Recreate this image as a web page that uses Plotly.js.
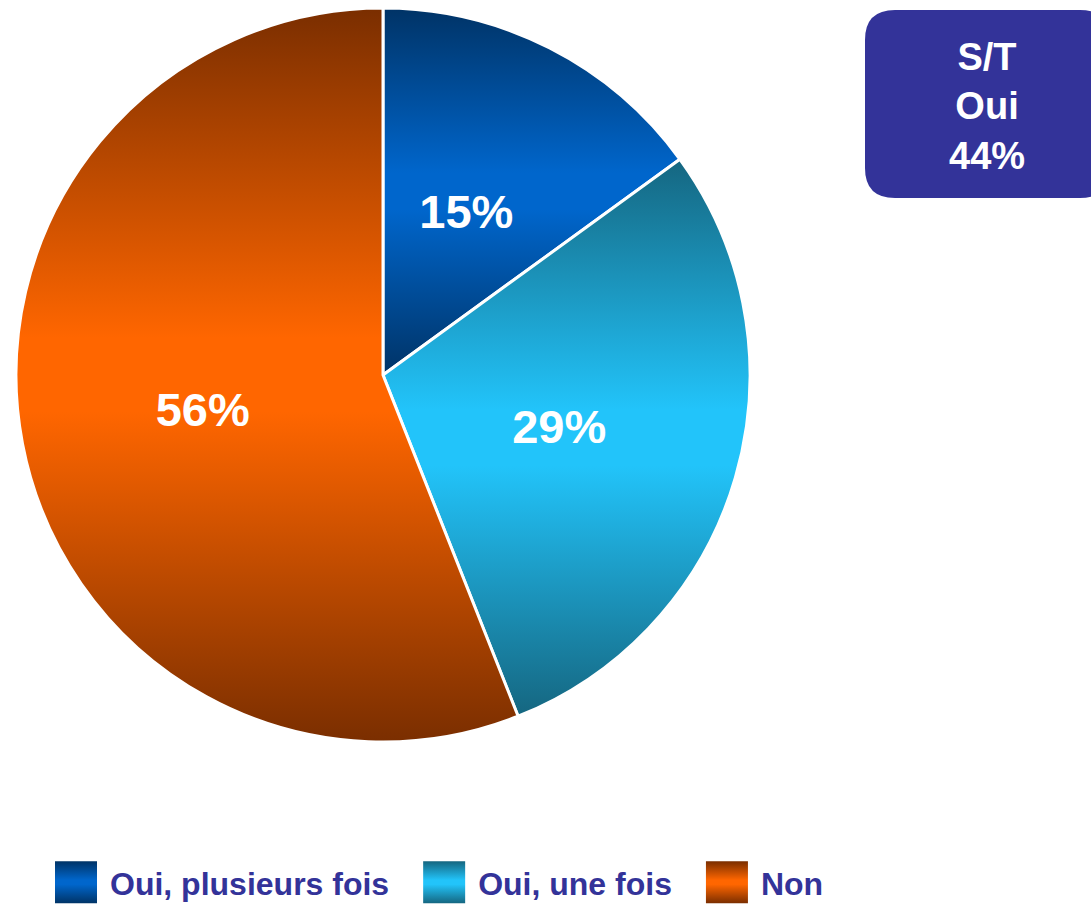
<!DOCTYPE html>
<html>
<head>
<meta charset="utf-8">
<script src="https://cdn.plot.ly/plotly-3.0.1.min.js"></script>
<style>
  html, body { margin: 0; padding: 0; background: #fff; }
  #chart { width: 1091px; height: 904px; }
</style>
</head>
<body>
<div id="chart"></div>
<script>
// réponses au sondage
const labels = ["Oui, plusieurs fois", "Oui, une fois", "Non"];
const values = [15, 29, 56];
const totalLabel = ["S/T", "Oui", "44%"];

// dégradés verticaux : [sombre, clair]
const sliceShades = [
    ["#003366", "#0066cc"],
    ["#156680", "#22c4fa"],
    ["#7a2e00", "#ff6600"]
];

const W = 1091, H = 904;
const px = x => x / W;
const py = y => 1 - y / H;

// encadré arrondi en haut à droite
function roundedBox(x0, y0, x1, y1, r) {
    return `M${px(x0 + r)},${py(y0)} L${px(x1 - r)},${py(y0)} Q${px(x1)},${py(y0)} ${px(x1)},${py(y0 + r)}` +
        ` L${px(x1)},${py(y1 - r)} Q${px(x1)},${py(y1)} ${px(x1 - r)},${py(y1)}` +
        ` L${px(x0 + r)},${py(y1)} Q${px(x0)},${py(y1)} ${px(x0)},${py(y1 - r)}` +
        ` L${px(x0)},${py(y0 + r)} Q${px(x0)},${py(y0)} ${px(x0 + r)},${py(y0)} Z`;
}

const trace = {
    type: "pie",
    labels: labels,
    values: values,
    sort: false,
    direction: "clockwise",
    rotation: 0,
    texttemplate: "%{value}%",
    textposition: "inside",
    insidetextorientation: "horizontal",
    insidetextfont: { family: "Liberation Sans, Arial, sans-serif", size: 47, color: "#ffffff", weight: "bold" },
    marker: {
        colors: sliceShades.map(s => s[1]),
        line: { color: "#ffffff", width: 3 }
    },
    domain: { x: [px(16), px(750)], y: [py(742), py(8)] },
    hoverinfo: "label+percent"
};

const layout = {
    width: W,
    height: H,
    margin: { t: 0, b: 0, l: 0, r: 0 },
    paper_bgcolor: "#ffffff",
    showlegend: true,
    legend: {
        orientation: "h",
        x: px(26),
        xanchor: "left",
        y: 0,
        yanchor: "bottom",
        itemwidth: 74,
        font: { family: "Liberation Sans, Arial, sans-serif", size: 32, color: "#333399", weight: "bold" },
        traceorder: "normal"
    },
    shapes: [{
        type: "path",
        xref: "paper",
        yref: "paper",
        path: roundedBox(865, 10, 1110, 198, 30),
        fillcolor: "#333399",
        line: { width: 0 }
    }],
    annotations: [{
        xref: "paper",
        yref: "paper",
        x: px(987),
        y: py(106),
        xanchor: "center",
        yanchor: "middle",
        showarrow: false,
        align: "center",
        text: totalLabel.join("<br>"),
        font: { family: "Liberation Sans, Arial, sans-serif", size: 38, color: "#ffffff", weight: "bold" }
    }]
};

// applique les dégradés aux parts et aux pastilles de légende,
// et recentre les étiquettes à mi-rayon
function applyGradients(gd) {
    const svg = gd.querySelector(".main-svg");
    const ns = "http://www.w3.org/2000/svg";
    let defs = svg.querySelector("defs");
    if (!defs) {
        defs = document.createElementNS(ns, "defs");
        svg.insertBefore(defs, svg.firstChild);
    }
    sliceShades.forEach((s, i) => {
        const g = document.createElementNS(ns, "linearGradient");
        g.setAttribute("id", "shade" + i);
        g.setAttribute("x1", "0"); g.setAttribute("y1", "0");
        g.setAttribute("x2", "0"); g.setAttribute("y2", "1");
        [[0, s[0]], [0.45, s[1]], [0.55, s[1]], [1, s[0]]].forEach(([o, c]) => {
            const stop = document.createElementNS(ns, "stop");
            stop.setAttribute("offset", o);
            stop.setAttribute("stop-color", c);
            g.appendChild(stop);
        });
        defs.appendChild(g);
    });

    const cd = gd.calcdata[0];
    const cx = cd[0].cx, cy = cd[0].cy;
    gd.querySelectorAll(".pielayer .slice").forEach((sl, i) => {
        const p = sl.querySelector("path.surface");
        if (p) p.style.fill = `url(#shade${i})`;
        const t = sl.querySelector("text.slicetext");
        if (t && cd[i] && cd[i].pxmid) {
            const bb = t.getBoundingClientRect();
            const sb = svg.getBoundingClientRect();
            const curX = bb.left - sb.left + bb.width / 2;
            const curY = bb.top - sb.top + bb.height / 2;
            const tx = cx + cd[i].pxmid[0] * 0.5;
            const ty = cy + cd[i].pxmid[1] * 0.5;
            const old = t.getAttribute("transform") || "";
            t.setAttribute("transform", `translate(${tx - curX},${ty - curY}) ` + old);
        }
    });

    // légende un peu plus bas, au ras du bord comme l'original
    const leg = gd.querySelector("g.legend");
    if (leg) {
        const old = leg.getAttribute("transform") || "";
        leg.setAttribute("transform", "translate(0,6) " + old);
    }
    gd.querySelectorAll(".legend .traces").forEach((tr, i) => {
        const p = tr.querySelector(".legendpoints path");
        if (p) {
            p.setAttribute("d", "M29,21H-13V-21H29Z");
            p.style.fill = `url(#shade${i})`;
            p.style.stroke = "none";
        }
    });
}

Plotly.newPlot("chart", [trace], layout, { displayModeBar: false, staticPlot: true })
    .then(applyGradients);
</script>
</body>
</html>
